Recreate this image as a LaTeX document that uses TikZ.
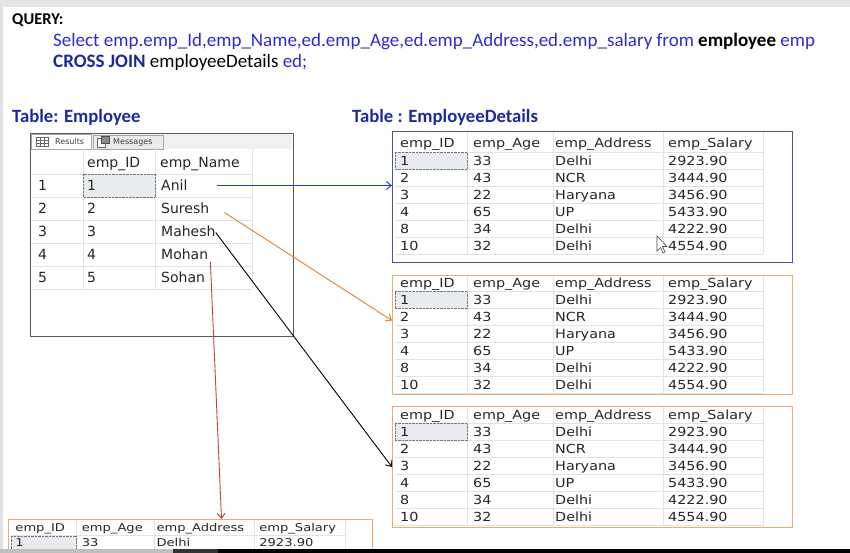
\documentclass[tikz,border=0pt]{standalone}
\usepackage{fontspec}
\setmainfont{Carlito}
\newfontfamily\empfont{DejaVu Sans}
\newfontfamily\edfont[FakeStretch=1.15]{DejaVu Sans}
\usetikzlibrary{arrows.meta}

\definecolor{qblue}{RGB}{45,45,205}
\definecolor{titleblue}{RGB}{28,42,160}
\definecolor{detblue}{RGB}{70,80,180}
\definecolor{boxorange}{RGB}{236,172,112}
\definecolor{arrblue}{RGB}{30,60,205}
\definecolor{arrorange}{RGB}{236,125,40}
\definecolor{arrred}{RGB}{205,60,60}
\definecolor{gridline}{RGB}{226,226,226}
\definecolor{cellgray}{RGB}{232,236,241}
\definecolor{winedge}{RGB}{90,90,90}

% rows of the EmployeeDetails table
\newcommand{\edrowsall}{1/33/Delhi/2923.90, 2/43/NCR/3444.90, 3/22/Haryana/3456.90,
  4/65/UP/5433.90, 8/34/Delhi/4222.90, 10/32/Delhi/4554.90}
\newcommand{\edrowsone}{1/33/Delhi/2923.90}

% one EmployeeDetails result grid: name, origin, colour, box top, box height, scope options, rows
\newcommand{\edtable}[7]{%
  \begin{scope}[shift={#2},#6]
    \node[edbox,draw=#3,minimum height=#5] (#1) at (0,#4) {};
    \foreach \gx in {75,161,271,371}
      \draw[gridline] (\gx,{#4+1}) -- (\gx,123);
    \foreach \gy in {21,38,...,123}
      \draw[gridline] (3,\gy) -- (371,\gy);
    \filldraw[fill=cellgray,draw=black!55,densely dotted] (3,21) rectangle (75,38);
    \node[edcell] (#1-h1) at (8,12) {emp\_ID};
    \node[edcell] (#1-h2) at (81,12) {emp\_Age};
    \node[edcell] (#1-h3) at (163,12) {emp\_Address};
    \node[edcell] (#1-h4) at (276,12) {emp\_Salary};
    \foreach \eid/\eage/\eaddr/\esal [count=\r] in #7{
      \node[edcell] (#1-\r-1) at (8,{12.5+17*\r}) {\eid};
      \node[edcell] (#1-\r-2) at (81,{12.5+17*\r}) {\eage};
      \node[edcell] (#1-\r-3) at (163,{12.5+17*\r}) {\eaddr};
      \node[edcell] (#1-\r-4) at (276,{12.5+17*\r}) {\esal};
    }
  \end{scope}}

\begin{document}
\begin{tikzpicture}[x=1pt,y=-1pt,-{Straight Barb[length=5pt,width=8pt]},
  title/.style={anchor=west,inner sep=0,text=titleblue,font=\bfseries\fontsize{18.7}{22}\selectfont},
  win/.style={draw=winedge,line width=1pt,anchor=north west,inner sep=0,
    minimum width=263,minimum height=203},
  empcell/.style={anchor=west,inner sep=0,text height=10.2pt,text depth=0pt,
    text=black!85,font=\empfont\fontsize{14}{16}\selectfont},
  tabtxt/.style={anchor=west,inner sep=0,text=black!75,font=\empfont\fontsize{8}{9}\selectfont},
  edbox/.style={anchor=north west,inner sep=0,line width=1.1pt,minimum width=400},
  edcell/.style={anchor=west,inner sep=0,text height=9.1pt,text depth=0pt,
    text=black!85,font=\edfont\fontsize{12.5}{14}\selectfont},
  gridline/.style={-,draw=gridline,line width=0.8pt},
  link/.style={line width=0.9pt}]

\path[use as bounding box,fill=white] (0,0) rectangle (850,553);
\begin{scope}[-]
\fill[black!10] (0,0) rectangle (850,7);
\fill[black!12] (0,7) rectangle (3,549);
\end{scope}

% query text
\node[anchor=west,inner sep=0,font=\bfseries\fontsize{16.5}{19}\selectfont] (query) at (12,20) {QUERY:};
\node[anchor=west,inner sep=0,text=qblue,font=\fontsize{19}{22}\selectfont] (sel) at (53,41)
  {Select emp.emp\_Id,emp\_Name,ed.emp\_Age,ed.emp\_Address,ed.emp\_salary from \textcolor{black}{\textbf{employee}} emp};
\node[anchor=west,inner sep=0,text=qblue,font=\fontsize{19}{22}\selectfont] (cj) at (53,62)
  {\textcolor{titleblue}{\textbf{CROSS JOIN}} \textcolor{black}{employeeDetails} ed;};

\node[title] (t1) at (12,117) {Table: Employee};
\node[title] (t2) at (352,117) {Table : EmployeeDetails};

% Employee result window
\begin{scope}[-]
\node[win] (emp) at (30,133) {};
\fill[black!6] (31,134) rectangle (292,149);
\draw[black!35,fill=white] (31,134) rectangle (91,149);
\draw[black!35,fill=black!8] (93,135) rectangle (163,149);
\draw[black!60,fill=white] (36,137) rectangle (48,146);
\draw[black!60] (36,140) -- (48,140) (36,143) -- (48,143) (40,137) -- (40,146) (44,137) -- (44,146);
\draw[black!60,fill=white] (97,138) rectangle (105,147);
\draw[black!70,fill=black!45] (101,136) rectangle (109,143);
\node[tabtxt] (res) at (55,141.5) {Results};
\node[tabtxt] (msg) at (113,142) {Messages};

\foreach \gx in {83,155,252}
  \draw[gridline] (\gx,149) -- (\gx,289);
\foreach \gy in {174,197,...,289}
  \draw[gridline] (31,\gy) -- (252,\gy);
\filldraw[fill=cellgray,draw=black!55,densely dotted] (83,174) rectangle (155,197);
\end{scope}

\node[empcell] (hid) at (87,162) {emp\_ID};
\node[empcell] (hname) at (160,162) {emp\_Name};
\foreach \nm [count=\r] in {Anil,Suresh,Mahesh,Mohan,Sohan}{
  \node[empcell] (rn\r) at (38,{162.5+23*\r}) {\r};
  \node[empcell] (id\r) at (87,{162.5+23*\r}) {\r};
  \node[empcell] (nm\r) at (161,{162.5+23*\r}) {\nm};
}

% EmployeeDetails copies
\begin{scope}[-]
\edtable{det1}{(392,131)}{detblue}{0}{131}{}{\edrowsall}
\edtable{det2}{(392,270.5)}{boxorange}{4.5}{119}{}{\edrowsall}
\edtable{det3}{(392,402.5)}{boxorange}{3.5}{121}{}{\edrowsall}
\begin{scope}
\clip (0,0) rectangle (850,549);
\edtable{det4}{(8,517.7)}{boxorange}{1.5}{140}{xscale=0.91,yscale=0.86,transform shape}{\edrowsone}
\end{scope}
% mouse pointer
\filldraw[fill=white,draw=black!70,line width=0.6pt] (657,236) -- (657,251) -- (660.5,247.5)
  -- (663,253) -- (665,252) -- (662.5,246.5) -- (667,246.5) -- cycle;
\end{scope}

% links
\draw[link,arrblue] ([xshift=29pt]nm1.east) -- (nm1 -| det1.west);
\draw[link,arrorange] ([xshift=15pt,yshift=-4pt]nm2.east) -- ([yshift=14.5pt]det2.west);
\draw[link,black] ([yshift=-1pt]nm3.east) -- (det3.west);
\draw[link,arrred] ([xshift=2pt,yshift=-2pt]nm4.south east) -- ([xshift=31pt]det4.north);

\begin{scope}[-]
\fill[black!25] (0,549) rectangle (173,553);
\fill[black!80] (173,549) rectangle (218,553);
\fill[black] (218,549) rectangle (850,553);
\end{scope}
\end{tikzpicture}
\end{document}
